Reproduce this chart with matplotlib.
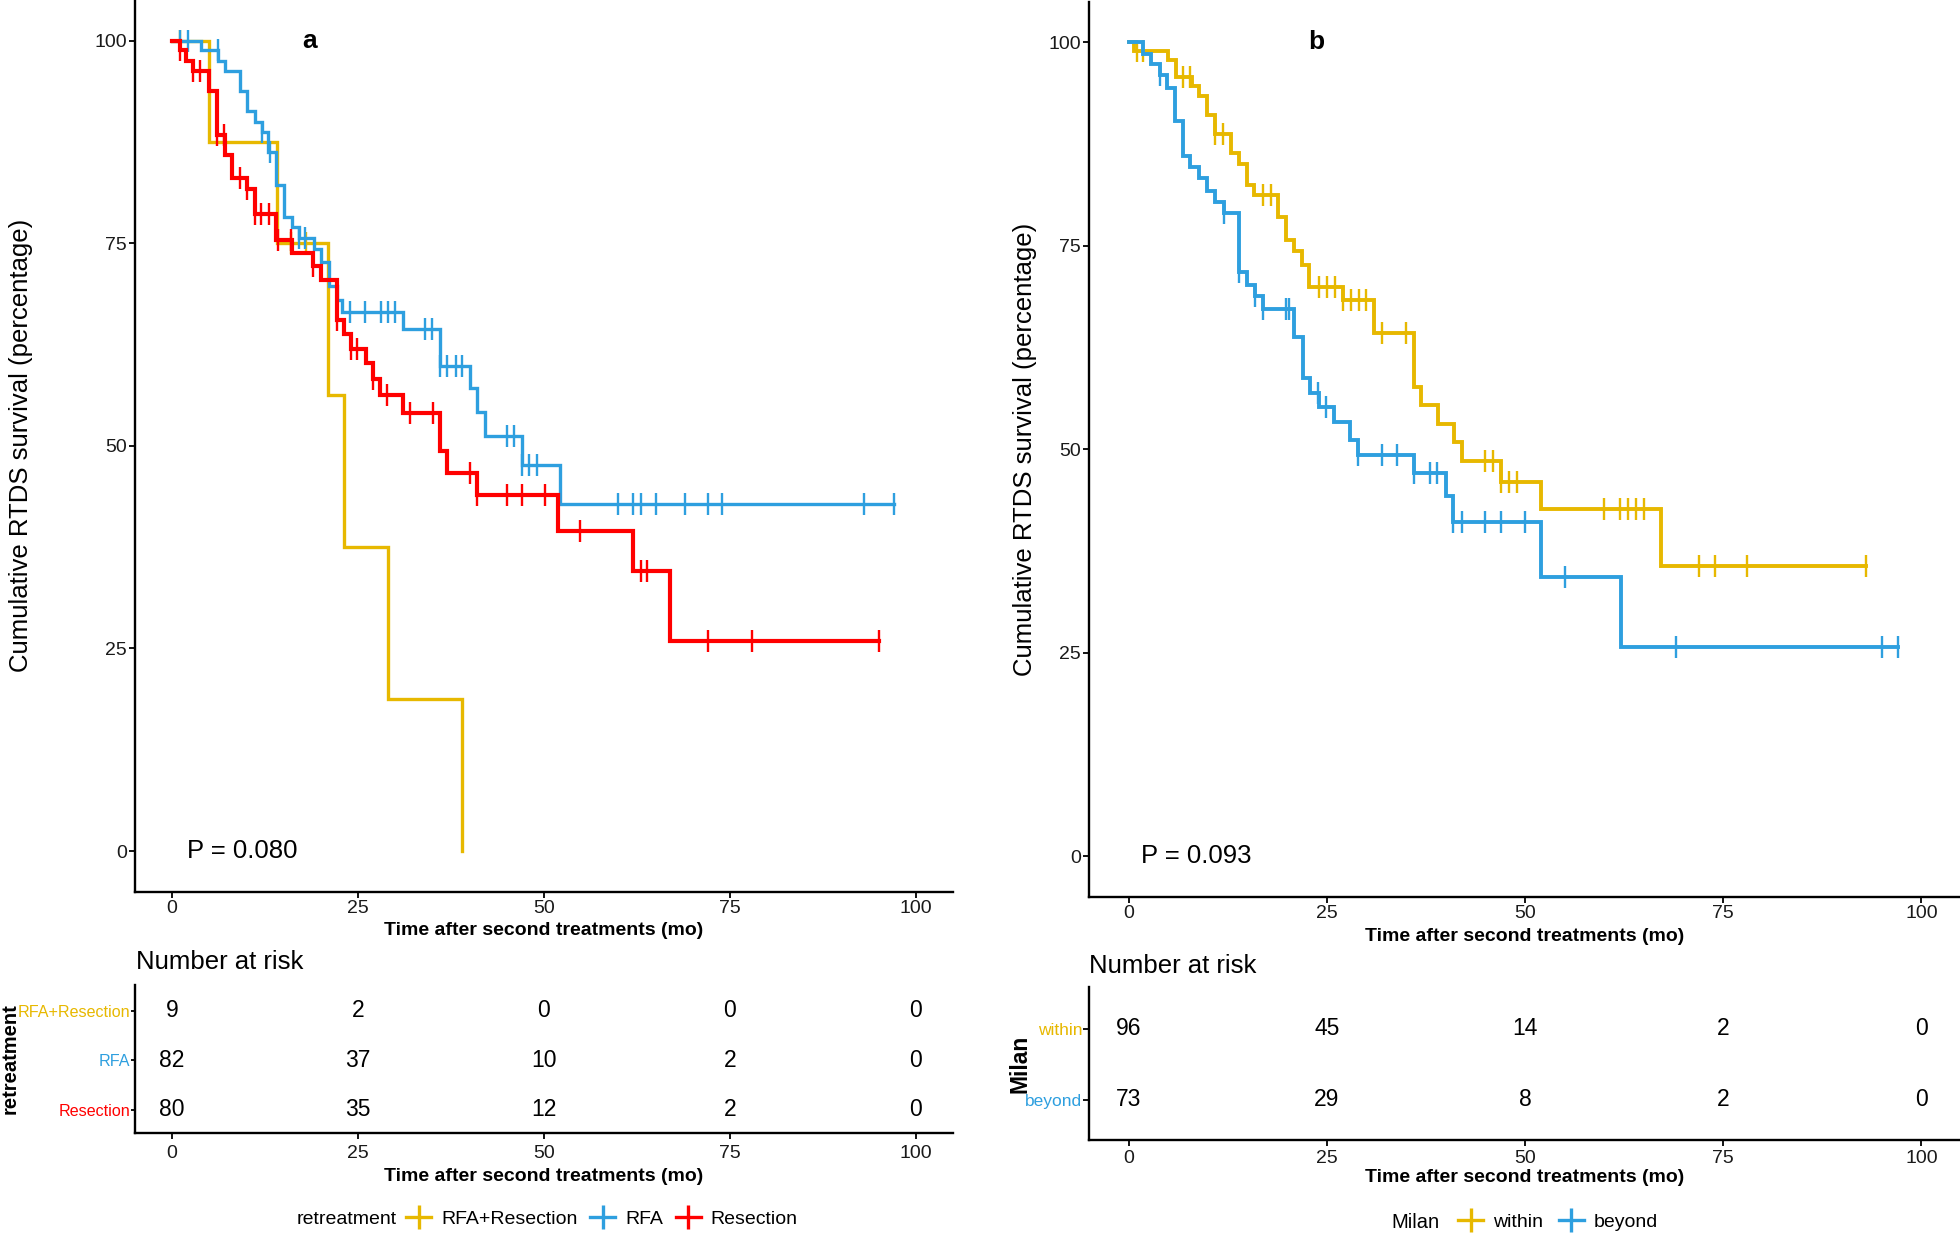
import numpy as np
import matplotlib
matplotlib.use('Agg')
import matplotlib.pyplot as plt
from matplotlib.lines import Line2D

plt.rcParams['font.family'] = ['Liberation Sans', 'DejaVu Sans']

# ---------------- data: panel a (retreatment) ----------------
a_groups = ['RFA+Resection', 'RFA', 'Resection']

a_combo_t = [0, 5, 14.1, 21, 23.1, 29, 39]
a_combo_s = [100, 87.5, 75, 56.25, 37.5, 18.75, 0]
a_combo_cens = [1, 16, 18]
a_combo_end = 39

a_rfa_t = [0, 3.9, 6.2, 7.1, 9.1, 10, 11.1, 12.1, 12.9, 14, 15, 16.1, 17.1, 19.1, 20,
           21.1, 22.1, 22.8, 31.0, 36.0, 40.1, 41, 42, 47, 52.1]
a_rfa_s = [100, 98.8, 97.5, 96.3, 93.8, 91.3, 90, 88.7, 86.2, 82.2, 78.2, 77, 75.6, 74.3,
           72.7, 69.7, 68, 66.5, 64.4, 59.9, 57.1, 54.2, 51.2, 47.6, 42.8]
a_rfa_cens = [1, 2.1, 6.1, 12.1, 13.2, 17.1, 17.9, 23.9, 25.9, 28.1, 29.0, 30.0, 34.0, 35.0,
              36.0, 37.0, 38.1, 39.0, 45, 46, 47, 48, 49, 60, 62, 63, 65, 69, 72, 74, 93, 97]
a_rfa_end = 97

a_res_t = [0, 1, 1.9, 2.8, 5, 6, 7.1, 8, 10.1, 11.1, 14, 16.1, 18.9, 20, 22.1, 23.1, 24,
           26.1, 27, 28, 31, 36, 36.9, 41, 51.9, 62, 67]
a_res_s = [100, 98.8, 97.5, 96.3, 93.8, 88.4, 85.9, 83.1, 81.7, 78.6, 75.4, 73.8, 72.2,
           70.5, 65.5, 63.8, 62, 60.2, 58.2, 56.3, 54.1, 49.3, 46.6, 43.9, 39.5, 34.6, 25.9]
a_res_cens = [1, 2.8, 3.7, 6, 7, 9.1, 10.1, 11.1, 12, 13, 14.2, 16, 19, 22.1, 24, 24.9, 27,
              28.9, 32, 35.1, 40.1, 41, 45, 47, 50.1, 54.9, 63, 63.9, 72, 78, 95]
a_res_end = 95

a_risk_times = [0, 25, 50, 75, 100]
a_risk_combo = [9, 2, 0, 0, 0]
a_risk_rfa = [82, 37, 10, 2, 0]
a_risk_res = [80, 35, 12, 2, 0]

# ---------------- data: panel b (Milan) ----------------
b_groups = ['within', 'beyond']

b_within_t = [0, 0.7, 5, 6, 8, 8.9, 9.9, 10.9, 12.9, 13.9, 14.9, 15.8, 18.9, 19.8, 20.9,
              21.9, 22.8, 27, 31, 36, 36.9, 39, 41, 42, 47, 52, 67.1]
b_within_s = [100, 99, 97.8, 95.7, 94.7, 93.4, 91.1, 88.8, 86.4, 85.1, 82.5, 81.3, 78.5,
              75.7, 74.4, 72.6, 70, 68.3, 64.3, 57.7, 55.4, 53.1, 50.9, 48.5, 46, 42.7, 35.6]
b_within_cens = [1.0, 1.8, 6.9, 7.7, 10.9, 11.9, 16.9, 17.9, 24, 25, 26, 27, 28, 29, 30, 32,
                 35, 45, 46, 47, 48, 49, 60, 62, 63, 64, 65, 72, 74, 78, 93]
b_within_end = 93

b_beyond_t = [0, 1.8, 2.8, 3.9, 4.8, 5.8, 6.8, 7.8, 8.9, 9.9, 10.9, 12, 13.9, 14.9, 15.9,
              16.9, 20.9, 22, 22.9, 24, 25.9, 27.9, 28.9, 36, 40, 40.9, 52, 62.1]
b_beyond_s = [100, 98.6, 97.4, 96, 94.4, 90.4, 86, 84.7, 83.3, 81.8, 80.4, 79.1, 71.8, 70.2,
              68.8, 67.3, 63.8, 58.7, 56.9, 55.2, 53.3, 51.1, 49.3, 47.1, 44.3, 41, 34.3, 25.7]
b_beyond_cens = [3.9, 12, 13.9, 15.9, 16.9, 19.8, 20.2, 23.9, 24.9, 28.9, 31.9, 33.9, 36, 38,
                 38.9, 40.9, 42, 45, 47, 50, 55, 69, 95, 97]
b_beyond_end = 97

b_risk_times = [0, 25, 50, 75, 100]
b_risk_within = [96, 45, 14, 2, 0]
b_risk_beyond = [73, 29, 8, 2, 0]

# ---------------- style ----------------
ORANGE = '#E7B800'
BLUE = '#2E9FDF'
RED = '#FF0000'
TXT = '#1a1a1a'

W, H = 1960, 1236
fig = plt.figure(figsize=(W / 100, H / 100), dpi=100)


def box(x0, y0, x1, y1):
    return [x0 / W, 1 - y1 / H, (x1 - x0) / W, (y1 - y0) / H]


def style_axes(ax, pad=2):
    for s in ['top', 'right']:
        ax.spines[s].set_visible(False)
    for s in ['left', 'bottom']:
        ax.spines[s].set_linewidth(1.7)
        ax.spines[s].set_color('black')
    ax.tick_params(direction='out', length=4, width=1.3, colors='black',
                   labelcolor=TXT, labelsize=14, pad=pad)


def draw_km(ax, t, s, cens, end, color, lw):
    tt = list(t) + [end]
    ss = list(s) + [s[-1]]
    ax.step(tt, ss, where='post', color=color, lw=lw, solid_joinstyle='miter')
    idx = np.searchsorted(np.array(t), np.array(cens), side='right') - 1
    cy = np.array(s)[idx]
    ax.plot(cens, cy, ls='none', marker='|', ms=16, mew=1.7, color=color)


XL = 'Time after second treatments (mo)'
YL = 'Cumulative RTDS survival (percentage)'

# ---------- panel a main ----------
axa = fig.add_axes(box(135, 0, 953, 891.6))
style_axes(axa)
draw_km(axa, a_combo_t, a_combo_s, a_combo_cens, a_combo_end, ORANGE, 2.4)
draw_km(axa, a_rfa_t, a_rfa_s, a_rfa_cens, a_rfa_end, BLUE, 2.4)
draw_km(axa, a_res_t, a_res_s, a_res_cens, a_res_end, RED, 3.0)
axa.set_xlim(-5, 105)
axa.set_ylim(-5, 105)
axa.set_xticks([0, 25, 50, 75, 100])
axa.set_yticks([0, 25, 50, 75, 100])
axa.set_xlabel(XL, fontsize=14, fontweight='bold', labelpad=4)
axa.set_ylabel(YL, fontsize=18.5)
axa.yaxis.set_label_coords(-0.125, 0.5)
axa.text(18.5, 100, 'a', fontsize=19, fontweight='bold', ha='center', va='center')
axa.text(2, 0, 'P = 0.080', fontsize=18.5, ha='left', va='center', color='black')

# ---------- panel a risk table ----------
ra = fig.add_axes(box(135, 985, 953, 1132.5))
style_axes(ra, pad=1)
ra.set_xlim(-5, 105)
ra.set_ylim(0.545, 3.525)
rows_a = [(a_risk_combo, 3), (a_risk_rfa, 2), (a_risk_res, 1)]
for vals, yy in rows_a:
    for x, v in zip(a_risk_times, vals):
        ra.text(x, yy, str(v), fontsize=16.5, ha='center', va='center', color='black')
ra.set_yticks([3, 2, 1])
ra.set_yticklabels(a_groups, fontsize=11.6)
ra.tick_params(axis='y', length=3, pad=0.5)
for lab, c in zip(ra.get_yticklabels(), [ORANGE, BLUE, RED]):
    lab.set_color(c)
ra.set_xticks(a_risk_times)
ra.tick_params(axis='x', pad=5)
ra.set_xlabel(XL, fontsize=14, fontweight='bold', labelpad=4)
ra.set_ylabel('retreatment', fontsize=14.5, fontweight='bold')
ra.yaxis.set_label_coords(-0.141, 0.5)
fig.text(136 / W, 1 - 962 / H, 'Number at risk', fontsize=18.5, ha='left', va='center')

# ---------- panel b main ----------
axb = fig.add_axes(box(1089, 1.8, 1961, 896.7))
style_axes(axb)
draw_km(axb, b_within_t, b_within_s, b_within_cens, b_within_end, ORANGE, 2.8)
draw_km(axb, b_beyond_t, b_beyond_s, b_beyond_cens, b_beyond_end, BLUE, 2.8)
axb.set_xlim(-5, 105)
axb.set_ylim(-5, 105)
axb.set_xticks([0, 25, 50, 75, 100])
axb.set_yticks([0, 25, 50, 75, 100])
axb.set_xlabel(XL, fontsize=14, fontweight='bold', labelpad=4)
axb.set_ylabel(YL, fontsize=18.5)
axb.yaxis.set_label_coords(-0.060, 0.5)
axb.text(23.7, 100, 'b', fontsize=19, fontweight='bold', ha='center', va='center')
axb.text(1.5, 0, 'P = 0.093', fontsize=18.5, ha='left', va='center', color='black')

# ---------- panel b risk table ----------
rb = fig.add_axes(box(1089, 987, 1961, 1140))
style_axes(rb, pad=1)
rb.set_xlim(-5, 105)
rb.set_ylim(0.437, 2.59)
rows_b = [(b_risk_within, 2), (b_risk_beyond, 1)]
for vals, yy in rows_b:
    for x, v in zip(b_risk_times, vals):
        rb.text(x, yy, str(v), fontsize=16.5, ha='center', va='center', color='black')
rb.set_yticks([2, 1])
rb.set_yticklabels(b_groups, fontsize=12.5)
for lab, c in zip(rb.get_yticklabels(), [ORANGE, BLUE]):
    lab.set_color(c)
rb.set_xticks(b_risk_times)
rb.tick_params(axis='x', pad=3)
rb.set_xlabel(XL, fontsize=14, fontweight='bold', labelpad=2)
rb.set_ylabel('Milan', fontsize=16.5, fontweight='bold')
rb.yaxis.set_label_coords(-0.066, 0.5)
fig.text(1089 / W, 1 - 966 / H, 'Number at risk', fontsize=18.5, ha='left', va='center')


# ---------- legends ----------
def key(c):
    return Line2D([], [], color=c, lw=2.4, marker='|', ms=17, mew=2.4)


fig.text(297 / W, 1 - 1219 / H, 'retreatment', fontsize=14, ha='left', va='center')
fig.legend([key(ORANGE), key(BLUE), key(RED)], a_groups, loc='center left',
           bbox_to_anchor=(406 / W, 1 - 1219 / H), ncol=3, frameon=False, fontsize=14,
           handlelength=1.3, handletextpad=0.5, columnspacing=0.65, borderaxespad=0,
           borderpad=0)

fig.text(1391 / W, 1 - 1222 / H, 'Milan', fontsize=14.5, ha='left', va='center')
fig.legend([key(ORANGE), key(BLUE)], b_groups, loc='center left',
           bbox_to_anchor=(1458 / W, 1 - 1222 / H), ncol=2, frameon=False, fontsize=14,
           handlelength=1.3, handletextpad=0.5, columnspacing=0.8, borderaxespad=0,
           borderpad=0)

fig.savefig('out.png', dpi=100)
